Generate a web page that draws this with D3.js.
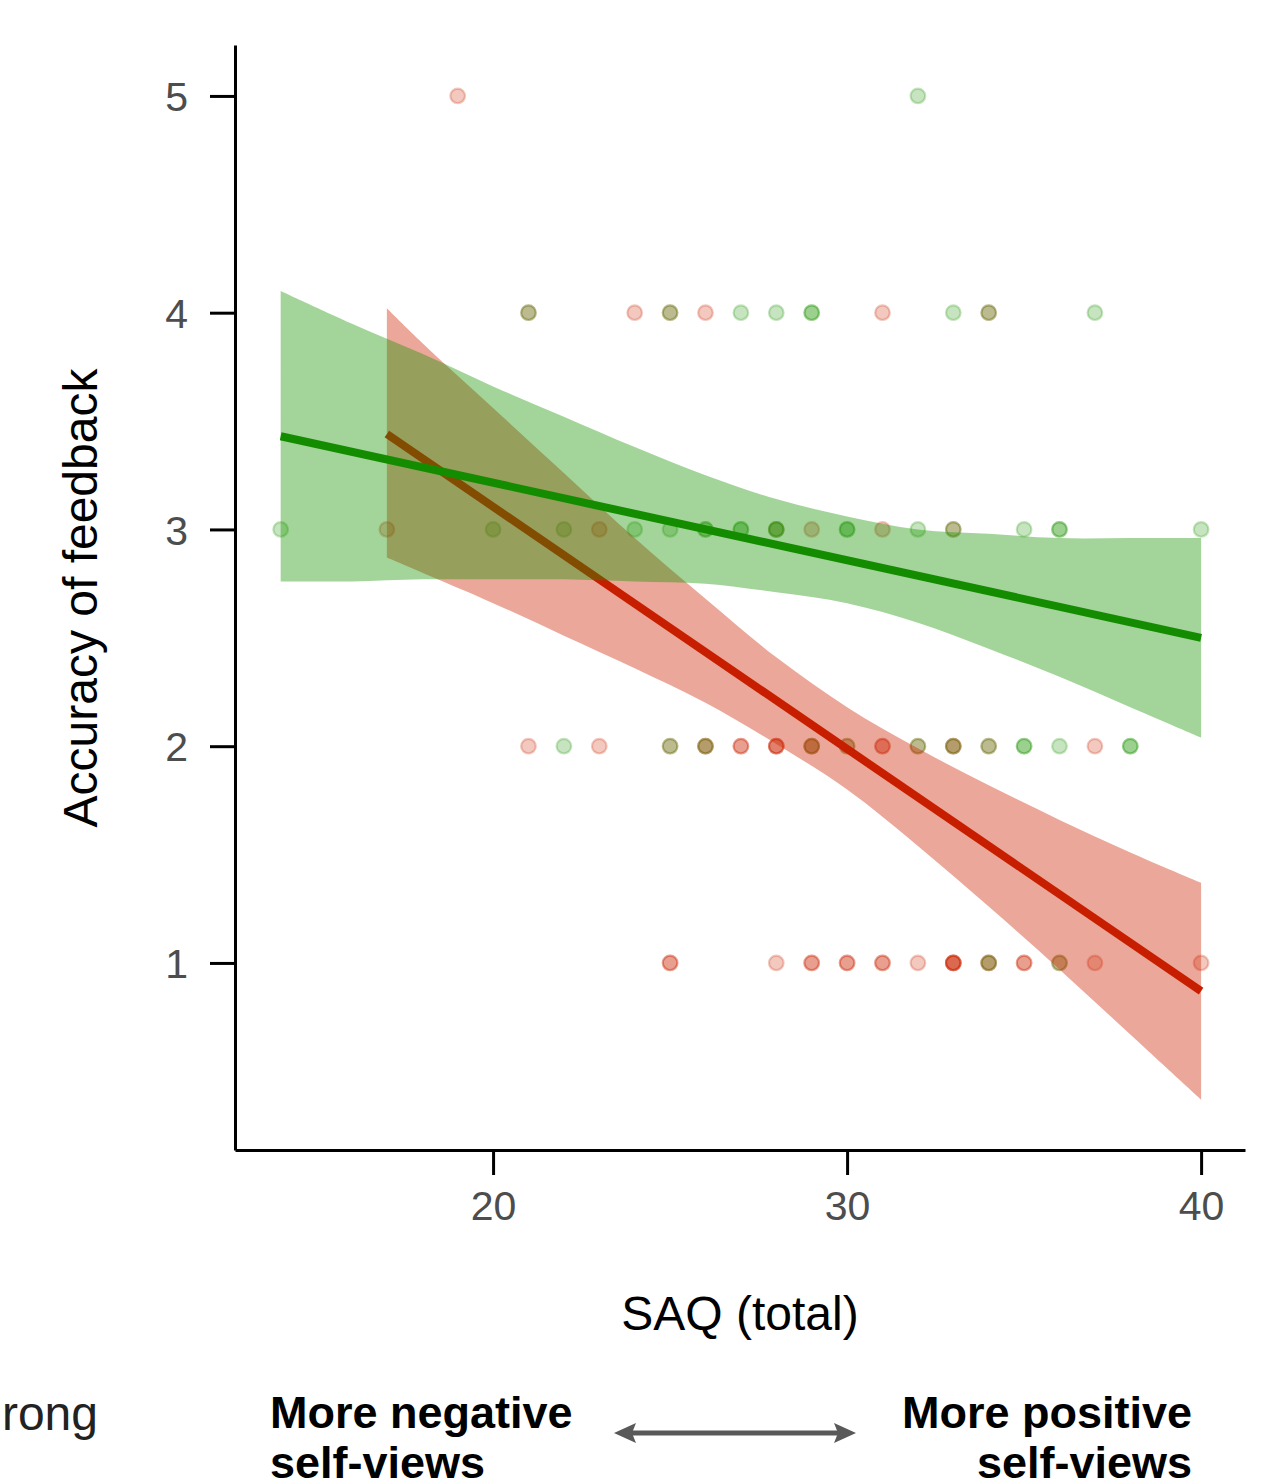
<!DOCTYPE html>
<html lang="en">
<head>
<meta charset="UTF-8">
<title>Accuracy of feedback vs SAQ</title>
<script src="https://d3js.org/d3.v7.min.js"></script>
<style>
  body { margin: 0; padding: 0; background: white; }
  svg { display: block; font-family: "Liberation Sans", Arial, sans-serif; }
  .axis path, .axis line { stroke: #000; stroke-width: 3; }
  .axis text { fill: #4d4d4d; font-size: 41px; }
</style>
</head>
<body>
<div id="chart"></div>
<script>
// points, "wrong" group (red)
const wrongX = [19,
  21, 24, 25, 26, 31, 34,
  17, 23, 28, 29, 31, 33,
  21, 23, 25, 26, 26, 27, 27, 28, 28, 28, 29, 29, 30, 31, 31, 32, 33, 33, 34, 37,
  25, 25, 28, 29, 29, 30, 30, 31, 31, 32, 33, 33, 33, 33, 34, 34, 35, 35, 36, 37, 40];
const wrongY = [5,
  4, 4, 4, 4, 4, 4,
  3, 3, 3, 3, 3, 3,
  2, 2, 2, 2, 2, 2, 2, 2, 2, 2, 2, 2, 2, 2, 2, 2, 2, 2, 2, 2,
  1, 1, 1, 1, 1, 1, 1, 1, 1, 1, 1, 1, 1, 1, 1, 1, 1, 1, 1, 1, 1];

// points, "right" group (green)
const rightX = [32,
  21, 25, 27, 28, 29, 29, 33, 34, 37,
  14, 20, 22, 24, 25, 26, 26, 27, 27, 28, 28, 30, 30, 32, 33, 35, 36, 36, 40,
  22, 25, 26, 29, 30, 32, 33, 34, 35, 35, 36, 38, 38,
  34, 36];
const rightY = [5,
  4, 4, 4, 4, 4, 4, 4, 4, 4,
  3, 3, 3, 3, 3, 3, 3, 3, 3, 3, 3, 3, 3, 3, 3, 3, 3, 3, 3,
  2, 2, 2, 2, 2, 2, 2, 2, 2, 2, 2, 2, 2,
  1, 1];

// fitted lines
const rightFitX = [14, 40];
const rightFitY = [3.43, 2.50];
const wrongFitX = [17, 40];
const wrongFitY = [3.44, 0.87];

// confidence bands
const rightBandX = [14, 16, 18, 20, 22, 24, 26, 28, 30, 32, 34, 36, 38, 40];
const rightUpper = [4.10, 3.95, 3.81, 3.66, 3.52, 3.38, 3.25, 3.14, 3.06, 3.00, 2.98, 2.96, 2.96, 2.96];
const rightLower = [2.76, 2.76, 2.77, 2.77, 2.77, 2.76, 2.75, 2.71, 2.66, 2.57, 2.45, 2.32, 2.18, 2.04];

const wrongBandX = [17, 18, 20, 22, 24, 26, 28, 30, 32, 34, 36, 38, 40];
const wrongUpper = [4.02, 3.86, 3.56, 3.26, 2.96, 2.68, 2.41, 2.18, 1.99, 1.82, 1.66, 1.51, 1.37];
const wrongLower = [2.87, 2.80, 2.66, 2.51, 2.36, 2.20, 2.01, 1.80, 1.54, 1.26, 0.97, 0.67, 0.37];

const xTicks = [20, 30, 40];
const yTicks = [1, 2, 3, 4, 5];

const RED = "#cc2200";
const GREEN = "#1a9400";

const width = 1271, height = 1484;
const svg = d3.select("#chart").append("svg")
    .attr("width", width)
    .attr("height", height);

svg.append("rect").attr("width", width).attr("height", height).attr("fill", "white");

const x = d3.scaleLinear().domain([12.71, 41.24]).range([235, 1245]);
const y = d3.scaleLinear().domain([0.137, 5.235]).range([1150, 45]);

// points first, bands and lines go over them
function drawPoints(xs, ys, color) {
    svg.append("g").selectAll("circle")
        .data(xs.map((v, i) => [v, ys[i]]))
        .join("circle")
        .attr("cx", d => x(d[0]))
        .attr("cy", d => y(d[1]))
        .attr("r", 7.3)
        .attr("fill", color)
        .attr("fill-opacity", 0.25)
        .attr("stroke", color)
        .attr("stroke-opacity", 0.25)
        .attr("stroke-width", 2.2);
}
drawPoints(wrongX, wrongY, RED);
drawPoints(rightX, rightY, GREEN);

function drawBand(xs, lo, hi, color) {
    const area = d3.area()
        .x(d => x(d[0]))
        .y0(d => y(d[1]))
        .y1(d => y(d[2]))
        .curve(d3.curveCatmullRom.alpha(0.5));
    svg.append("path")
        .datum(xs.map((v, i) => [v, lo[i], hi[i]]))
        .attr("d", area)
        .attr("fill", color)
        .attr("fill-opacity", 0.4);
}

function drawFit(xs, ys, color) {
    const line = d3.line().x(d => x(d[0])).y(d => y(d[1]));
    svg.append("path")
        .datum(xs.map((v, i) => [v, ys[i]]))
        .attr("d", line)
        .attr("fill", "none")
        .attr("stroke", color)
        .attr("stroke-width", 8);
}

drawBand(wrongBandX, wrongLower, wrongUpper, RED);
drawFit(wrongFitX, wrongFitY, "#c81e00");
drawBand(rightBandX, rightLower, rightUpper, GREEN);
drawFit(rightFitX, rightFitY, "#148c00");

// axes
const yAxis = svg.append("g")
    .attr("class", "axis")
    .attr("transform", "translate(235,0)")
    .call(d3.axisLeft(y).tickValues(yTicks).tickFormat(d3.format("d"))
        .tickSize(25).tickSizeOuter(0).tickPadding(22));
yAxis.selectAll("text").attr("dy", "0.36em");

svg.append("g")
    .attr("class", "axis")
    .attr("transform", "translate(0,1150)")
    .call(d3.axisBottom(x).tickValues(xTicks).tickFormat(d3.format("d"))
        .tickSize(25).tickSizeOuter(0).tickPadding(16));

// axis titles
svg.append("text")
    .attr("x", 740).attr("y", 1330)
    .attr("text-anchor", "middle")
    .attr("font-size", 48)
    .attr("fill", "#000")
    .text("SAQ (total)");

svg.append("text")
    .attr("transform", "translate(97,598) rotate(-90)")
    .attr("text-anchor", "middle")
    .attr("font-size", 48)
    .attr("fill", "#000")
    .text("Accuracy of feedback");

// legend fragment, cut off at the left edge like in the source image
svg.append("text")
    .attr("x", 98).attr("y", 1430)
    .attr("text-anchor", "end")
    .attr("font-size", 48)
    .attr("fill", "#222")
    .text("Wrong");

// bottom annotation
const note = svg.append("g").attr("font-weight", "bold").attr("font-size", 45).attr("fill", "#000");
note.append("text").attr("x", 270).attr("y", 1428).text("More negative");
note.append("text").attr("x", 270).attr("y", 1478).text("self-views");
note.append("text").attr("x", 1192).attr("y", 1428).attr("text-anchor", "end").text("More positive");
note.append("text").attr("x", 1192).attr("y", 1478).attr("text-anchor", "end").text("self-views");

// double arrow
const arrow = svg.append("g").attr("fill", "#595959").attr("stroke", "#595959");
arrow.append("line")
    .attr("x1", 630).attr("x2", 840)
    .attr("y1", 1433).attr("y2", 1433)
    .attr("stroke-width", 5);
arrow.append("path").attr("stroke", "none").attr("d", "M614,1433 L636,1423 L632,1433 L636,1443 Z");
arrow.append("path").attr("stroke", "none").attr("d", "M856,1433 L834,1423 L838,1433 L834,1443 Z");

// hide what is left of the W so only "rong" shows
svg.append("rect").attr("x", 0).attr("y", 1390).attr("width", 4).attr("height", 60).attr("fill", "white");
</script>
</body>
</html>
